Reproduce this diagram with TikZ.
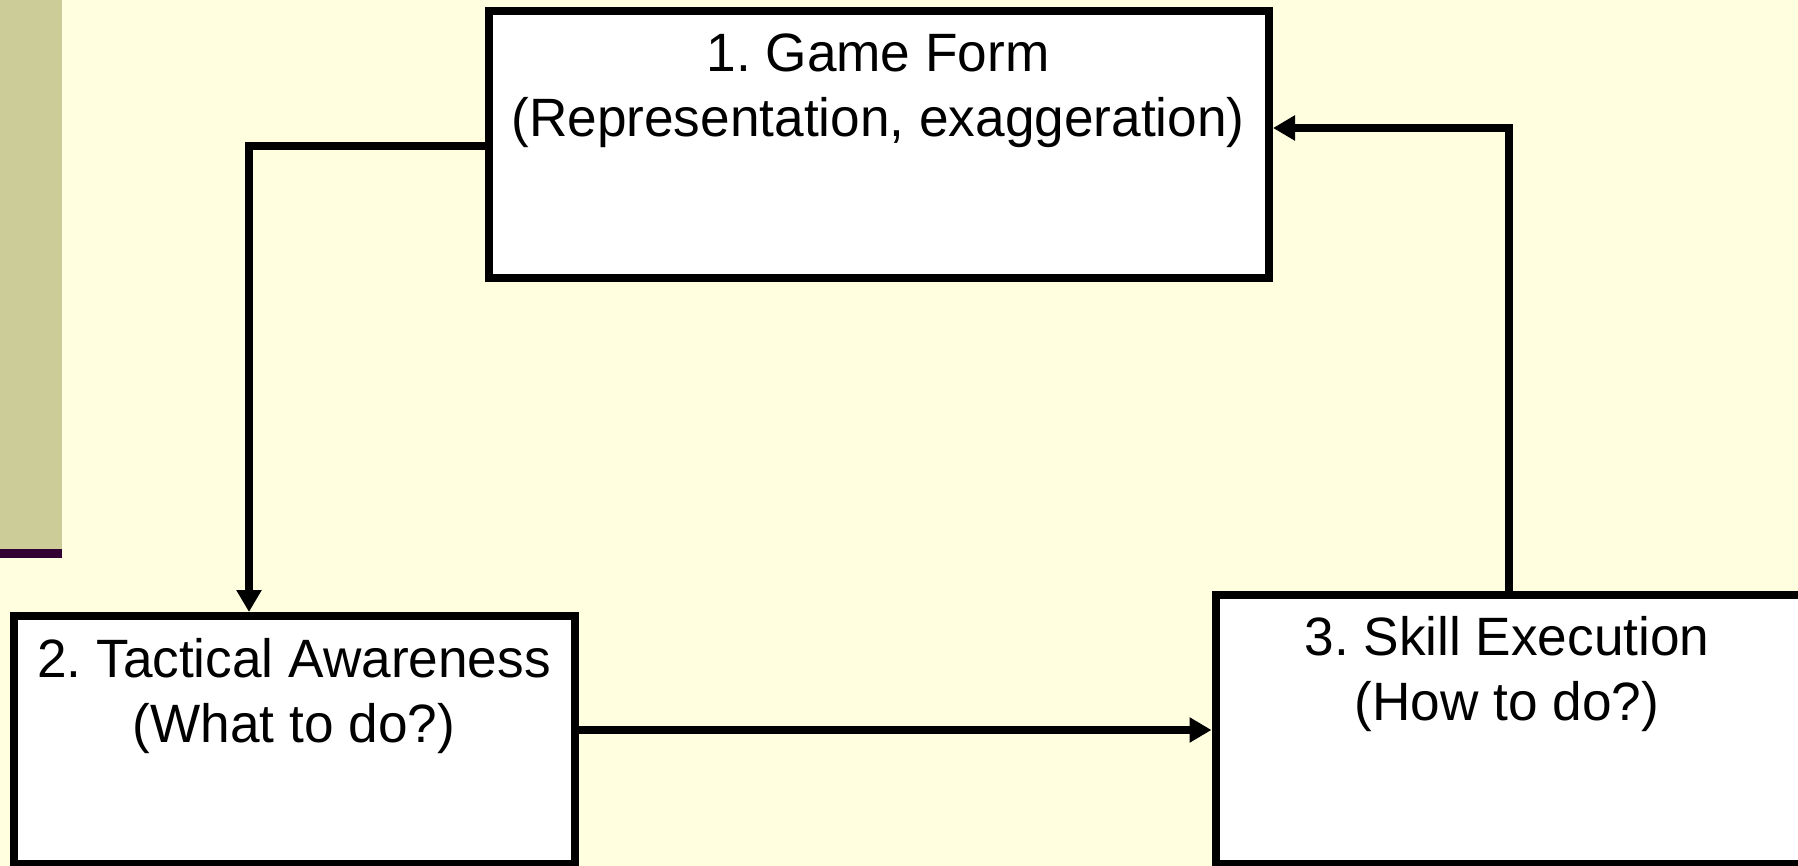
\documentclass[tikz,border=0pt]{standalone}
\usepackage{fontspec}
\setmainfont[FakeStretch=0.985]{Liberation Sans}
\usetikzlibrary{arrows.meta}
\frenchspacing
\definecolor{paper}{RGB}{255,255,224}
\definecolor{sidebar}{RGB}{204,204,153}
\definecolor{sidebarrule}{RGB}{51,0,51}
\tikzset{
  stagebox/.style={draw=black, fill=white, line width=4pt, rectangle, inner sep=0pt},
  stagetext/.style={anchor=base, inner sep=0pt, font=\fontsize{27pt}{32.5pt}\selectfont},
  flow/.style={draw=black, line width=3.7pt, -{Triangle[length=11pt,width=12pt]}}
}
\begin{document}
\begin{tikzpicture}[x=0.5pt, y=-0.5pt]
  % canvas
  \useasboundingbox (0,0) rectangle (1798,866);
  \fill[paper] (0,0) rectangle (1798,866);
  % side bar with its dark rule
  \fill[sidebar] (0,0) rectangle (62,549);
  \fill[sidebarrule] (0,549) rectangle (62,558);

  % the three stages
  \node[stagebox, minimum width=390pt, minimum height=133.5pt] (game) at (879,144.5) {};
  \node[stagebox, minimum width=280.5pt, minimum height=124pt] (tactic) at (294.5,740) {};
  \node[stagebox, minimum width=293.25pt, minimum height=134.75pt] (skill) at (1508.75,729.25) {};

  % stage labels
  \node[stagetext] (game1) at (878,72) {1. Game Form};
  \node[stagetext] (game2) at (878,137) {(Representation, exaggeration)};
  \node[stagetext] (tactic1) at (294,677) {2. Tactical Awareness};
  \node[stagetext] (tactic2) at (294,742) {(What to do?)};
  \node[stagetext] (skill1) at (1507,655.5) {3. Skill Execution};
  \node[stagetext] (skill2) at (1507,720.5) {(How to do?)};

  % routing points of the loop
  \coordinate (bendA) at (249,146);
  \coordinate (levelB) at (0,730);
  \coordinate (bendC) at (1509,128);

  % connectors
  \draw[flow] (game.west |- bendA) -| (tactic.north -| bendA);
  \draw[flow] (tactic.east |- levelB) -- (skill.west |- levelB);
  \draw[flow] (skill.north -| bendC) |- (game.east |- bendC);
\end{tikzpicture}
\end{document}
